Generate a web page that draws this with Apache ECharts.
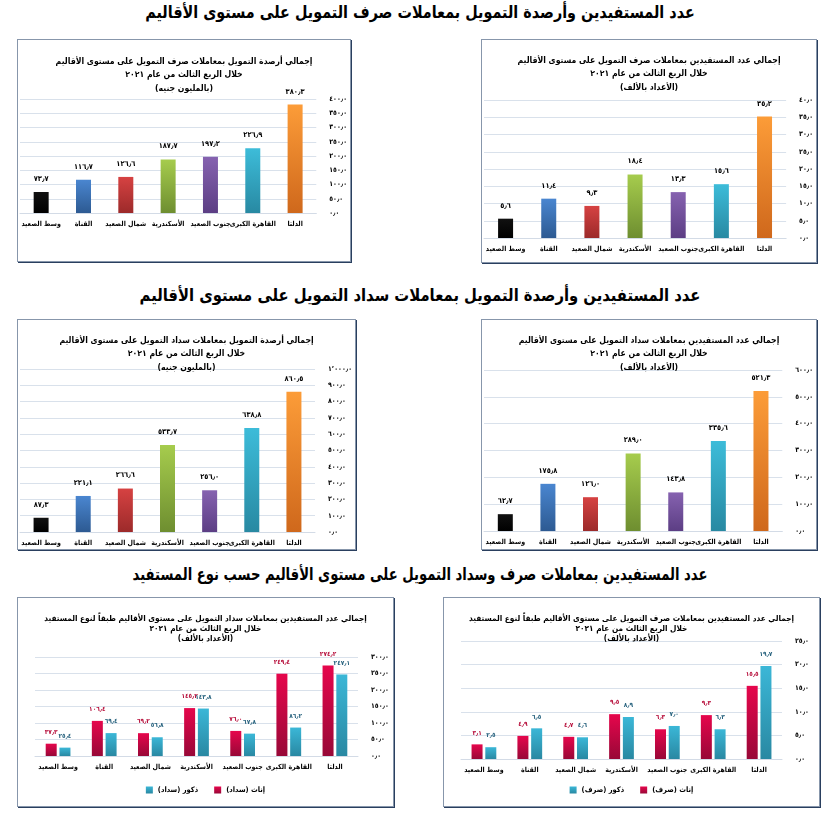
<!DOCTYPE html>
<html>
<head>
<meta charset="utf-8">
<script src="https://cdn.jsdelivr.net/npm/echarts@6/dist/echarts.min.js"></script>
<style>
  body { margin: 0; background: #fff; width: 840px; height: 822px; position: relative; font-family: 'DejaVu Sans', sans-serif; }
  .head { position: absolute; left: 0; width: 840px; text-align: center; font-weight: bold; font-size: 17px; color: #000; direction: rtl; white-space: nowrap; }
  .box { position: absolute; border: 1px solid #8796ab; box-shadow: 1px 1px 0 #2a3f5f; direction: rtl; background: #fff; }
</style>
</head>
<body>
<div class="head" style="top:2px;transform:scaleX(0.845)">عدد المستفيدين وأرصدة التمويل بمعاملات صرف التمويل على مستوى الأقاليم</div>
<div class="box" id="c1" style="left:17px;top:39px;width:332px;height:221px"></div>
<div class="box" id="c2" style="left:481px;top:39px;width:334px;height:222px"></div>
<div class="head" style="top:285px;transform:scaleX(0.87)">عدد المستفيدين وأرصدة التمويل بمعاملات سداد التمويل على مستوى الأقاليم</div>
<div class="box" id="c3" style="left:17px;top:319px;width:337px;height:229px"></div>
<div class="box" id="c4" style="left:481px;top:319px;width:334px;height:229px"></div>
<div class="head" style="top:564px;transform:scaleX(0.775)">عدد المستفيدين بمعاملات صرف وسداد التمويل على مستوى الأقاليم حسب نوع المستفيد</div>
<div class="box" id="c5" style="left:17px;top:597px;width:375px;height:208px"></div>
<div class="box" id="c6" style="left:443px;top:597px;width:375px;height:208px"></div>
<script>
// الأقاليم من اليسار إلى اليمين كما في الرسم
var regions = ['وسط الصعيد', 'القناة', 'شمال الصعيد', 'الأسكندرية', 'جنوب الصعيد', 'القاهرة الكبرى', 'الدلتا'];

// صرف التمويل
var sarfBalance = [73.7, 116.7, 126.6, 187.7, 197.2, 226.9, 380.3];
var sarfCount = [5.6, 11.4, 9.3, 18.4, 13.3, 15.6, 35.2];
// سداد التمويل
var sadadBalance = [87.3, 221.1, 266.6, 533.7, 256.0, 638.8, 860.5];
var sadadCount = [62.7, 175.8, 126.0, 289.0, 143.8, 335.6, 521.3];
// حسب نوع المستفيد
var sadadFemale = [37.3, 106.4, 69.2, 145.2, 76.0, 249.4, 274.2];
var sadadMale = [25.4, 69.4, 56.8, 143.8, 67.8, 86.2, 247.1];
var sarfFemale = [3.1, 4.9, 4.7, 9.5, 6.3, 9.3, 15.5];
var sarfMale = [2.5, 6.5, 4.6, 8.9, 7.0, 6.3, 19.7];

// ألوان الأعمدة (أعلى / أسفل)
var barColors = [
  ['#111111', '#000000'],
  ['#4a86d0', '#2d5a92'],
  ['#d64242', '#9c2a2a'],
  ['#a6cc4d', '#6e8e30'],
  ['#8662b0', '#5c3e84'],
  ['#3dbcd9', '#2889a2'],
  ['#fc9c38', '#cf681c']
];
var femaleColor = ['#e6064c', '#980837'];
var maleColor = ['#3bb7d7', '#2988a2'];

var FONT = 'DejaVu Sans Condensed';

function arNum(v) {
  var s = v.toFixed(1);
  var p = s.split('.');
  var intPart = p[0].replace(/\B(?=(\d{3})+(?!\d))/g, '٬');
  return (intPart + '٫' + p[1]).replace(/\d/g, function (d) { return '٠١٢٣٤٥٦٧٨٩'[d]; });
}

function grad(c) {
  return new echarts.graphic.LinearGradient(0, 0, 0, 1, [
    { offset: 0, color: c[0] }, { offset: 1, color: c[1] }
  ]);
}

function baseAxes(max, interval, fs, margin) {
  return {
    xAxis: {
      type: 'category',
      data: regions,
      axisTick: { show: false },
      axisLine: { lineStyle: { color: '#d3dbe6' } },
      axisLabel: { color: '#000', fontWeight: 'bold', fontSize: fs, fontFamily: FONT, margin: margin, interval: 0 }
    },
    yAxis: {
      type: 'value',
      position: 'right',
      min: 0, max: max, interval: interval,
      axisLine: { show: false },
      axisTick: { show: false },
      splitLine: { lineStyle: { color: '#d9e1eb' } },
      axisLabel: { color: '#000', fontWeight: 'bold', fontSize: 7, fontFamily: FONT, margin: 13, formatter: arNum }
    }
  };
}

function singleChart(id, title, values, max, interval, grid, titleTop) {
  var chart = echarts.init(document.getElementById(id));
  var ax = baseAxes(max, interval, 7, 8);
  var option = {
    animation: false,
    title: {
      text: title, left: 'center', top: titleTop,
      textStyle: { fontSize: 8.6, fontWeight: 'bold', fontFamily: FONT, color: '#000', lineHeight: 13.5 }
    },
    grid: grid,
    xAxis: ax.xAxis,
    yAxis: ax.yAxis,
    series: [{
      type: 'bar',
      barWidth: 15,
      data: values.map(function (v, i) {
        return { value: v, itemStyle: { color: grad(barColors[i]) } };
      }),
      label: {
        show: true, position: 'top', distance: 9,
        color: '#000', fontWeight: 'bold', fontSize: 7.5, fontFamily: FONT,
        formatter: function (p) { return arNum(p.value); }
      }
    }]
  };
  chart.setOption(option);
}

function pairChart(id, title, female, male, names, max, interval, grid) {
  var chart = echarts.init(document.getElementById(id));
  var ax = baseAxes(max, interval, 7, 8);
  var option = {
    animation: false,
    title: {
      text: title, left: 'center', top: 11,
      textStyle: { fontSize: 8.2, fontWeight: 'bold', fontFamily: FONT, color: '#000', lineHeight: 10 }
    },
    legend: {
      data: [names[1], names[0]],
      bottom: 7, left: 'center',
      itemWidth: 7, itemHeight: 7, itemGap: 16,
      icon: 'rect',
      textStyle: { color: '#000', fontWeight: 'bold', fontSize: 7.5, fontFamily: FONT }
    },
    grid: grid,
    xAxis: ax.xAxis,
    yAxis: ax.yAxis,
    series: [{
      name: names[0],
      type: 'bar',
      barWidth: 11,
      barGap: '25%',
      itemStyle: { color: grad(femaleColor) },
      data: female,
      label: {
        show: true, position: 'top', distance: 8,
        color: '#b8123e', fontWeight: 'bold', fontSize: 6.5, fontFamily: FONT,
        formatter: function (p) { return arNum(p.value); }
      }
    }, {
      name: names[1],
      type: 'bar',
      barWidth: 11,
      itemStyle: { color: grad(maleColor) },
      data: male,
      label: {
        show: true, position: 'top', distance: 8,
        color: '#2b6580', fontWeight: 'bold', fontSize: 6.5, fontFamily: FONT,
        formatter: function (p) { return arNum(p.value); }
      }
    }]
  };
  chart.setOption(option);
}

singleChart('c1', 'إجمالي أرصدة التمويل بمعاملات صرف التمويل على مستوى الأقاليم\nخلال الربع الثالث من عام ٢٠٢١\n(بالمليون جنيه)',
  sarfBalance, 400, 50, { left: 2, right: 30, top: 59, bottom: 48 }, 10);
singleChart('c2', 'إجمالي عدد المستفيدين بمعاملات صرف التمويل على مستوى الأقاليم\nخلال الربع الثالث من عام ٢٠٢١\n(الأعداد بالألف)',
  sarfCount, 40, 5, { left: 2, right: 29, top: 60, bottom: 24 }, 9);
singleChart('c3', 'إجمالي أرصدة التمويل بمعاملات سداد التمويل على مستوى الأقاليم\nخلال الربع الثالث من عام ٢٠٢١\n(بالمليون جنيه)',
  sadadBalance, 1000, 100, { left: 2, right: 40, top: 49, bottom: 17 }, 9);
singleChart('c4', 'إجمالي عدد المستفيدين بمعاملات سداد التمويل على مستوى الأقاليم\nخلال الربع الثالث من عام ٢٠٢١\n(الأعداد بالألف)',
  sadadCount, 600, 100, { left: 2, right: 32, top: 50, bottom: 18 }, 9);
pairChart('c5', 'إجمالي عدد المستفيدين بمعاملات سداد التمويل على مستوى الأقاليم طبقاً لنوع المستفيد\nخلال الربع الثالث من عام ٢٠٢١\n(الأعداد بالألف)',
  sadadFemale, sadadMale, ['إناث (سداد)', 'ذكور (سداد)'], 300, 50, { left: 17, right: 35, top: 59, bottom: 50 });
pairChart('c6', 'إجمالي عدد المستفيدين بمعاملات صرف التمويل على مستوى الأقاليم طبقاً لنوع المستفيد\nخلال الربع الثالث من عام ٢٠٢١\n(الأعداد بالألف)',
  sarfFemale, sarfMale, ['إناث (صرف)', 'ذكور (صرف)'], 25, 5, { left: 17, right: 37, top: 43, bottom: 47 });
</script>
</body>
</html>
